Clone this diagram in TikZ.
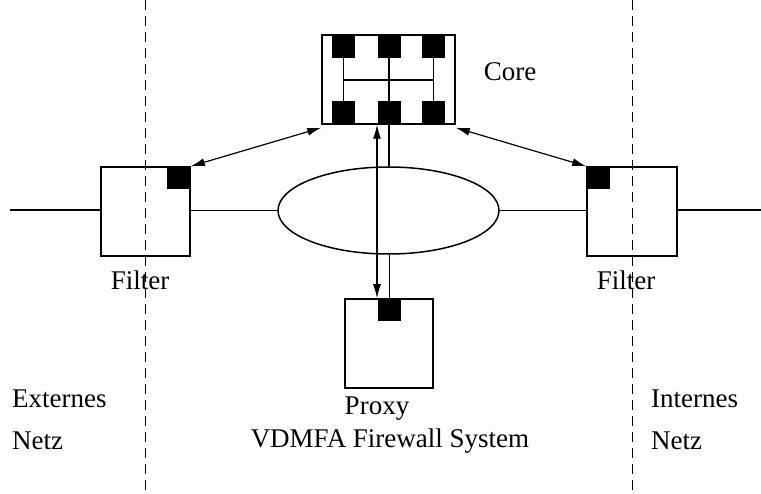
\documentclass[tikz,border=0pt]{standalone}
\usepackage{fontspec}
\setmainfont{Liberation Serif}
\usetikzlibrary{shapes.geometric,arrows.meta}
\begin{document}
\begin{tikzpicture}[x=1pt, y=-1pt,
    box/.style={draw, line width=1.5pt, minimum width=#1, minimum height=89pt, inner sep=0pt},
    port/.style={fill=black, minimum width=23pt, minimum height=22pt, inner sep=0pt},
    lbl/.style={font=\fontsize{27}{32}\selectfont, inner sep=0pt},
    wire/.style={line width=1.1pt},
    link/.style={line width=1.2pt, {Latex[length=14pt,width=8pt]}-{Latex[length=14pt,width=8pt]}}]
    \useasboundingbox (0, 0) rectangle (761, 494);

    % Grenzen
    \draw[line width=1pt, dash pattern=on 10pt off 6pt] (145, 0) -- (145, 494);
    \draw[line width=1pt, dash pattern=on 10pt off 6pt] (632, 0) -- (632, 494);

    % Core
    \node[box=133pt] (core) at (388.5, 79.5) {};
    \node[port] (c1) at (343.5, 47) {};
    \node[port] (c2) at (389, 47) {};
    \node[port] (c3) at (433.5, 47) {};
    \node[port] (c4) at (343.5, 112.5) {};
    \node[port] (c5) at (389, 112.5) {};
    \node[port] (c6) at (433.5, 112.5) {};
    \draw[wire] (c1) -- (c4);
    \draw[wire] (c2) -- (c5);
    \draw[wire] (c3) -- (c6);
    \draw[wire] (c1 |- 0, 80) -- (c3 |- 0, 80);
    \node[lbl] (corelbl) at (510, 72) {Core};

    % Filter
    \node[box=89pt] (fl) at (145.5, 211.5) {};
    \node[port] (flp) at (178.5, 178) {};
    \node[box=90pt] (fr) at (632, 211.5) {};
    \node[port] (frp) at (598.5, 178) {};
    \node[lbl] (fllbl) at (140, 280) {Filter};
    \node[lbl] (frlbl) at (626, 280) {Filter};

    % Netz
    \node[ellipse, draw, line width=1.5pt, minimum width=221pt, minimum height=87pt, inner sep=0pt] (net) at (388.5, 210.5) {};
    \coordinate (lend) at (10, 210);
    \coordinate (rend) at (761, 210);
    \draw[wire] (lend) -- (lend -| fl.west);
    \draw[wire] (fl.east |- net) -- (net.west);
    \draw[wire] (net.east) -- (fr.west |- net);
    \draw[wire] (fr.east |- rend) -- (rend);

    % Proxy
    \node[box=88pt] (proxy) at (389, 343.5) {};
    \node[port] (pp) at (389.5, 310.5) {};
    \node[lbl] (proxylbl) at (377, 409) {Proxy};

    \draw[wire] (core.south -| c5) -- (net.north -| c5);
    \draw[wire] (net.south -| pp) -- (proxy.north -| pp);

    % Pfeile
    \draw[link] (fl.north east) -- ([yshift=-3pt]core.south west);
    \draw[link] (fr.north west) -- ([yshift=-3pt]core.south east);
    \draw[link] (core.south -| 377, 0) -- (proxy.north -| 377, 0);

    % Beschriftung
    \node[lbl, anchor=west] (ext) at (12, 399) {Externes};
    \node[lbl, anchor=west] (extn) at (12, 441) {Netz};
    \node[lbl] (sys) at (390, 441) {VDMFA Firewall System};
    \node[lbl, anchor=west] (int) at (651, 399) {Internes};
    \node[lbl, anchor=west] (intn) at (651, 441) {Netz};
\end{tikzpicture}
\end{document}
